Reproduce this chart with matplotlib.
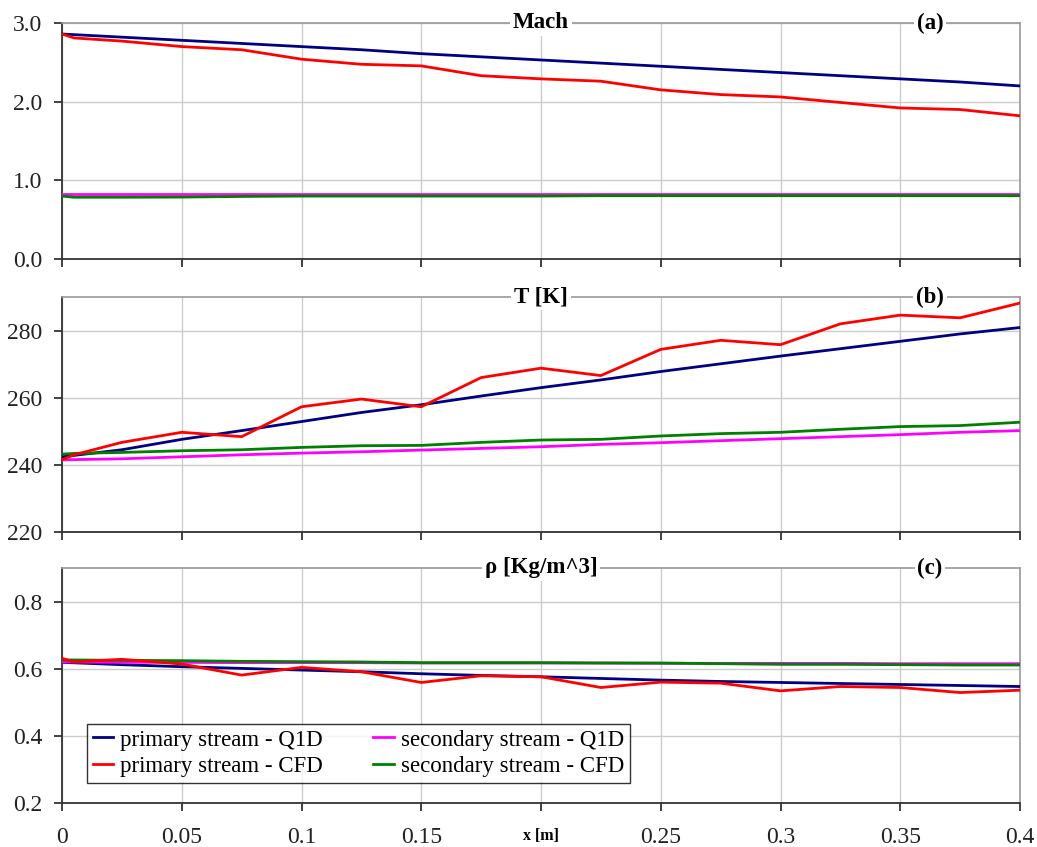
import matplotlib
matplotlib.use("Agg")
import matplotlib.pyplot as plt
from matplotlib.ticker import FuncFormatter, MultipleLocator

plt.rcParams['font.family'] = ['Liberation Serif', 'DejaVu Serif']

# ---------------- data ----------------
x = [0.0, 0.025, 0.05, 0.075, 0.1, 0.125, 0.15, 0.175, 0.2,
     0.225, 0.25, 0.275, 0.3, 0.325, 0.35, 0.375, 0.4]
x_cfd = [0.0, 0.005, 0.025, 0.05, 0.075, 0.1, 0.125, 0.15, 0.175, 0.2,
         0.225, 0.25, 0.275, 0.3, 0.325, 0.35, 0.375, 0.4]

# Mach
mach_prim_q1d = [2.86, 2.82, 2.78, 2.74, 2.70, 2.66, 2.61, 2.57, 2.53,
                 2.49, 2.45, 2.41, 2.37, 2.33, 2.29, 2.25, 2.20]
mach_prim_cfd = [2.86, 2.81, 2.77, 2.70, 2.66, 2.54, 2.475, 2.455, 2.33, 2.29,
                 2.26, 2.15, 2.09, 2.06, 1.99, 1.92, 1.90, 1.82]
mach_sec_q1d = [0.82] * 17
mach_sec_cfd = [0.80, 0.785, 0.785, 0.787, 0.795, 0.80, 0.80, 0.80, 0.80, 0.80,
                0.805, 0.805, 0.805, 0.805, 0.805, 0.805, 0.805, 0.805]

# Temperature [K]
T_prim_q1d = [242.4, 244.5, 247.6, 250.2, 252.9, 255.6, 257.9, 260.5, 263.0,
              265.3, 267.8, 270.1, 272.4, 274.6, 276.8, 279.0, 280.9]
T_prim_cfd = [241.5, 243.0, 246.7, 249.7, 248.4, 257.3, 259.6, 257.3, 266.0, 268.8,
              266.6, 274.4, 277.1, 275.8, 282.0, 284.6, 283.8, 288.2]
T_sec_q1d = [241.5, 241.8, 242.4, 243.0, 243.5, 243.9, 244.4, 244.9, 245.4,
             246.1, 246.6, 247.2, 247.8, 248.4, 249.0, 249.7, 250.2]
T_sec_cfd = [243.2, 243.4, 243.7, 244.2, 244.5, 245.2, 245.7, 245.8, 246.7, 247.4,
             247.6, 248.6, 249.3, 249.7, 250.6, 251.4, 251.7, 252.7]

# Density [Kg/m^3]
rho_prim_q1d = [0.619, 0.612, 0.606, 0.601, 0.596, 0.591, 0.585, 0.580, 0.576,
                0.571, 0.566, 0.562, 0.559, 0.556, 0.553, 0.550, 0.547]
rho_prim_cfd = [0.631, 0.620, 0.628, 0.614, 0.581, 0.604, 0.591, 0.559, 0.579, 0.576,
                0.544, 0.560, 0.557, 0.534, 0.547, 0.544, 0.529, 0.536]
rho_sec_q1d = [0.620, 0.619, 0.619, 0.618, 0.618, 0.618, 0.617, 0.617, 0.617,
               0.617, 0.616, 0.616, 0.616, 0.616, 0.615, 0.615, 0.615]
rho_sec_cfd = [0.626, 0.626, 0.625, 0.624, 0.622, 0.621, 0.620, 0.618, 0.618, 0.618,
               0.617, 0.617, 0.615, 0.613, 0.613, 0.612, 0.611, 0.611]

x_ticks = [0, 0.05, 0.1, 0.15, 0.2, 0.25, 0.3, 0.35, 0.4]
panel_titles = ["Mach", "T [K]", "ρ [Kg/m^3]"]
panel_tags = ["(a)", "(b)", "(c)"]
labels = ["primary stream - Q1D", "primary stream - CFD",
          "secondary stream - Q1D", "secondary stream - CFD"]
colors = ["#000080", "#FF0000", "#FF00FF", "#008000"]

# ---------------- figure ----------------
W, H = 1037, 847
fig = plt.figure(figsize=(W / 100, H / 100), dpi=100)

def frac(px_left, px_top, px_right, px_bottom):
    return [px_left / W, 1 - px_bottom / H, (px_right - px_left) / W,
            (px_bottom - px_top) / H]

boxes = [frac(62, 23, 1020, 259), frac(62, 297, 1020, 532), frac(62, 568, 1020, 803)]
ylims = [(0, 3.0), (220, 290), (0.2, 0.9)]
ysteps = [1.0, 20, 0.2]
yfmts = ["{:.1f}", "{:.0f}", "{:.1f}"]
data = [
    (mach_prim_q1d, mach_prim_cfd, mach_sec_q1d, mach_sec_cfd),
    (T_prim_q1d, T_prim_cfd, T_sec_q1d, T_sec_cfd),
    (rho_prim_q1d, rho_prim_cfd, rho_sec_q1d, rho_sec_cfd),
]

axes = []
for i in range(3):
    ax = fig.add_axes(boxes[i])
    axes.append(ax)
    pq, pc, sq, sc = data[i]
    h1, = ax.plot(x, pq, color=colors[0], lw=2, label=labels[0], zorder=3)
    h2, = ax.plot(x_cfd, pc, color=colors[1], lw=2, label=labels[1], zorder=4)
    h3, = ax.plot(x, sq, color=colors[2], lw=2, label=labels[2], zorder=3)
    h4, = ax.plot(x_cfd, sc, color=colors[3], lw=2, label=labels[3], zorder=3)

    ax.set_xlim(0, 0.4)
    ax.set_ylim(*ylims[i])
    ax.set_xticks(x_ticks)
    ax.yaxis.set_major_locator(MultipleLocator(ysteps[i]))
    fmt = yfmts[i]
    ax.yaxis.set_major_formatter(FuncFormatter(lambda v, p, f=fmt: f.format(v)))
    ax.grid(True, color="#cccccc", lw=1)
    ax.set_axisbelow(True)
    ax.tick_params(axis="both", direction="out", labelsize=17, colors="#222222",
                   width=1.2)
    ax.tick_params(axis="y", length=6, pad=8)
    ax.tick_params(axis="x", length=6, pad=11)
    for s in ("top", "right"):
        ax.spines[s].set_color("#999999")
        ax.spines[s].set_linewidth(1.2)
    for s in ("left", "bottom"):
        ax.spines[s].set_color("#333333")
        ax.spines[s].set_linewidth(1.3)
    if i < 2:
        ax.tick_params(axis="x", labelbottom=False)
    else:
        ax.xaxis.set_major_formatter(
            FuncFormatter(lambda v, p: "" if abs(v - 0.2) < 1e-9 else f"{v:g}"))

    ax.text(0.5, 1.0, panel_titles[i], transform=ax.transAxes, ha="center",
            va="center", fontsize=16.5, fontweight="bold", zorder=10, clip_on=False,
            bbox=dict(facecolor="white", edgecolor="none", pad=2))
    ax.text(0.906, 1.0, panel_tags[i], transform=ax.transAxes, ha="center",
            va="center", fontsize=16.5, fontweight="bold", zorder=10, clip_on=False,
            bbox=dict(facecolor="white", edgecolor="none", pad=2))

leg = axes[2].legend(handles=[h1, h2, h3, h4], ncol=2, loc="lower left",
                     bbox_to_anchor=(25 / 958, 20 / 235), fontsize=16.5,
                     frameon=True, fancybox=False, edgecolor="#000000",
                     handlelength=0.9, handletextpad=0.3, columnspacing=2.2,
                     borderpad=0.25, labelspacing=0.25, borderaxespad=0)
leg.get_frame().set_linewidth(1.0)

axes[2].text(0.2, -33 / 235, "x [m]", transform=axes[2].get_xaxis_transform(),
             ha="center", va="center", fontsize=11.5, fontweight="bold",
             clip_on=False)

fig.savefig("out.png", dpi=100, facecolor="white")
